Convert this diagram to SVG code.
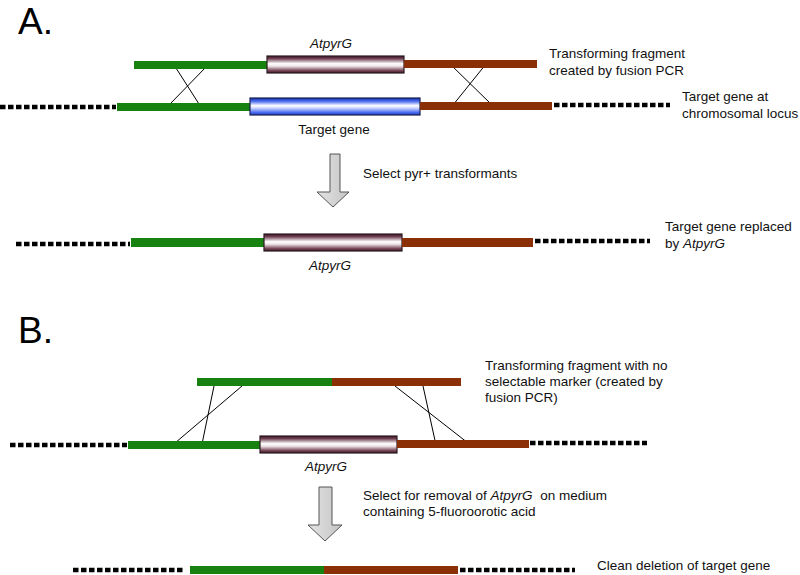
<svg xmlns="http://www.w3.org/2000/svg" width="800" height="575" viewBox="0 0 800 575">
<defs>
<linearGradient id="gPur" x1="0" y1="0" x2="0" y2="1">
<stop offset="0" stop-color="#3d1424"/>
<stop offset="0.15" stop-color="#6e3e50"/>
<stop offset="0.45" stop-color="#ffffff"/>
<stop offset="0.6" stop-color="#efe4e8"/>
<stop offset="0.85" stop-color="#7a4a5a"/>
<stop offset="1" stop-color="#3d1424"/>
</linearGradient>
<linearGradient id="gBlue" x1="0" y1="0" x2="0" y2="1">
<stop offset="0" stop-color="#1030b0"/>
<stop offset="0.2" stop-color="#5070f0"/>
<stop offset="0.45" stop-color="#ffffff"/>
<stop offset="0.6" stop-color="#c8d4ff"/>
<stop offset="0.85" stop-color="#4a6af0"/>
<stop offset="1" stop-color="#2040c0"/>
</linearGradient>
<linearGradient id="gArrow" x1="0" y1="0" x2="1" y2="0">
<stop offset="0" stop-color="#e4e4e4"/>
<stop offset="1" stop-color="#c4c4c4"/>
</linearGradient>
</defs>
<style>
.t{font-family:"Liberation Sans",Arial,sans-serif;font-size:13.5px;fill:#111}
.big{font-family:"Liberation Sans",Arial,sans-serif;font-size:37px;fill:#000}
.i{font-style:italic}
.dash{stroke:#000;stroke-width:4.5;stroke-dasharray:5.5 2.5;fill:none}
.green{fill:#17820f}
.brown{fill:#8b2f06}
.pur{fill:url(#gPur);stroke:#2b1b22;stroke-width:1.2}
.blue{fill:url(#gBlue);stroke:#1a2050;stroke-width:1.2}
.x{stroke:#000;stroke-width:1;fill:none}
.arrow{fill:url(#gArrow);stroke:#555;stroke-width:1}
</style>

<text class="big" x="18" y="34">A.</text>
<text class="big" x="18" y="343">B.</text>

<g id="connectors">
<line class="x" x1="176" y1="68" x2="199" y2="104"/>
<line class="x" x1="207" y1="66" x2="170" y2="104"/>
<line class="x" x1="450" y1="64" x2="491" y2="104"/>
<line class="x" x1="486" y1="64" x2="453" y2="105"/>
<line class="x" x1="214" y1="386" x2="202" y2="444"/>
<line class="x" x1="242" y1="386" x2="175" y2="443"/>
<line class="x" x1="423" y1="386" x2="436" y2="445"/>
<line class="x" x1="395" y1="386" x2="468" y2="443"/>
<polygon class="arrow" points="330,154 340,154 340,192 349,192 333,207 317,192 330,192"/>
<polygon class="arrow" points="319,487 332,487 332,525 342,525 325,541 308,525 319,525"/>
</g>

<g id="fragmentA">
<rect class="green" x="134" y="61" width="133" height="8"/>
<rect class="pur" x="267" y="56" width="137" height="17"/>
<rect class="brown" x="404" y="60" width="133" height="8"/>
<text class="t i" x="331" y="48" text-anchor="middle">AtpyrG</text>
<text class="t" x="549" y="58">Transforming fragment</text>
<text class="t" x="549" y="75">created by fusion PCR</text>
</g>

<g id="locusA">
<line class="dash" x1="0" y1="107" x2="116" y2="107"/>
<rect class="green" x="117" y="103" width="133" height="8"/>
<rect class="blue" x="250" y="98" width="170" height="17"/>
<rect class="brown" x="420" y="102" width="132" height="8"/>
<line class="dash" x1="554" y1="105" x2="670" y2="105"/>
<text class="t" x="334" y="134" text-anchor="middle">Target gene</text>
<text class="t" x="682" y="101">Target gene at</text>
<text class="t" x="682" y="118">chromosomal locus</text>
</g>

<g id="stepA">
<text class="t" x="363" y="178">Select pyr+ transformants</text>
</g>

<g id="resultA">
<line class="dash" x1="16" y1="244" x2="130" y2="244"/>
<rect class="green" x="131" y="238" width="133" height="9"/>
<rect class="pur" x="264" y="234" width="138" height="17"/>
<rect class="brown" x="402" y="238" width="131" height="9"/>
<line class="dash" x1="535" y1="241" x2="650" y2="241"/>
<text class="t i" x="330" y="270" text-anchor="middle">AtpyrG</text>
<text class="t" x="665" y="231">Target gene replaced</text>
<text class="t" x="665" y="248">by <tspan class="i">AtpyrG</tspan></text>
</g>

<g id="fragmentB">
<rect class="green" x="197" y="378" width="135" height="8"/>
<rect class="brown" x="332" y="378" width="129" height="8"/>
<text class="t" x="485" y="370">Transforming fragment with no</text>
<text class="t" x="485" y="386">selectable marker (created by</text>
<text class="t" x="485" y="402">fusion PCR)</text>
</g>

<g id="locusB">
<line class="dash" x1="10" y1="445" x2="127" y2="445"/>
<rect class="green" x="128" y="441" width="132" height="8"/>
<rect class="pur" x="260" y="436" width="137" height="17"/>
<rect class="brown" x="397" y="440" width="132" height="8"/>
<line class="dash" x1="530" y1="443" x2="647" y2="443"/>
<text class="t i" x="326" y="471" text-anchor="middle">AtpyrG</text>
</g>

<g id="stepB">
<text class="t" x="363" y="500">Select for removal of <tspan class="i">AtpyrG</tspan><tspan dx="4"> on medium</tspan></text>
<text class="t" x="363" y="516">containing 5-fluoroorotic acid</text>
</g>

<g id="resultB">
<line class="dash" x1="73" y1="570" x2="185" y2="570"/>
<rect class="green" x="190" y="566" width="134" height="8"/>
<rect class="brown" x="324" y="566" width="134" height="8"/>
<line class="dash" x1="460" y1="570" x2="575" y2="570"/>
<text class="t" x="597" y="570">Clean deletion of target gene</text>
</g>
</svg>
